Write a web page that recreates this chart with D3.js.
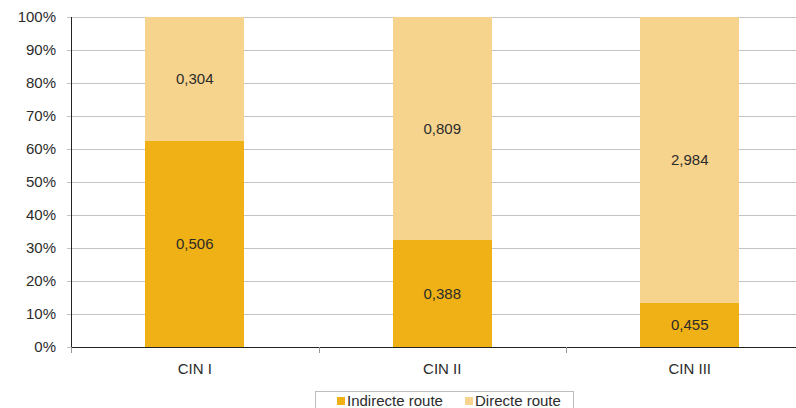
<!DOCTYPE html>
<html>
<head>
<meta charset="utf-8">
<script src="https://cdn.jsdelivr.net/npm/d3@7"></script>
<style>
  html, body { margin: 0; padding: 0; background: #fff; overflow: hidden; }
  svg { display: block; font-family: "Liberation Sans", Arial, sans-serif; }
</style>
</head>
<body>
<svg id="chart" width="796" height="408"></svg>
<script>
const categories = ["CIN I", "CIN II", "CIN III"];
const indirecte = [0.506, 0.388, 0.455];
const directe = [0.304, 0.809, 2.984];
const seriesNames = ["Indirecte route", "Directe route"];
const yTicks = [0, 0.1, 0.2, 0.3, 0.4, 0.5, 0.6, 0.7, 0.8, 0.9, 1.0];

const colors = ["#EFB115", "#F7D48E"];
const svg = d3.select("#chart");
const margin = { left: 71, top: 17, right: -17.5, bottom: 61 };
const W = 796, H = 408;
const plotW = W - margin.left - margin.right;
const plotH = H - margin.top - margin.bottom;

const x = d3.scaleBand().domain(categories).range([margin.left, margin.left + plotW]).paddingInner(0.6).paddingOuter(0.3);
const y = d3.scaleLinear().domain([0, 1]).range([margin.top + plotH, margin.top]);

// gridlines
svg.append("g").selectAll("line").data(yTicks.slice(1)).join("line")
  .attr("x1", margin.left - 4).attr("x2", margin.left + plotW)
  .attr("y1", d => y(d)).attr("y2", d => y(d))
  .attr("stroke", "#C4C4C4").attr("stroke-width", 1).attr("shape-rendering", "crispEdges");

// data
const rows = categories.map((c, i) => {
  const tot = indirecte[i] + directe[i];
  return { cat: c, vals: [indirecte[i], directe[i]], shares: [indirecte[i] / tot, directe[i] / tot] };
});

const g = svg.append("g");
rows.forEach(r => {
  let acc = 0;
  r.shares.forEach((s, k) => {
    const y0 = acc, y1 = acc + s;
    g.append("rect")
      .attr("x", x(r.cat)).attr("width", x.bandwidth())
      .attr("y", y(y1)).attr("height", y(y0) - y(y1))
      .attr("fill", colors[k]).attr("shape-rendering", "crispEdges");
    g.append("text")
      .attr("x", x(r.cat) + x.bandwidth() / 2)
      .attr("y", (y(y0) + y(y1)) / 2)
      .attr("dy", "0.35em").attr("text-anchor", "middle")
      .attr("font-size", 15).attr("fill", "#2b2b2b")
      .text(d3.format(".3f")(r.vals[k]).replace(".", ","));
    acc = y1;
  });
});

// y axis
const yAxis = d3.axisLeft(y).tickValues(yTicks).tickFormat(d3.format(".0%")).tickSize(4).tickPadding(11);
const ya = svg.append("g").attr("transform", `translate(${margin.left},0)`).call(yAxis);
ya.select(".domain").attr("stroke", "#222").attr("d", `M0.5,${y(1)}V${y(0)}`);
ya.selectAll(".tick line").attr("stroke", "#C4C4C4");
ya.selectAll("text").attr("font-size", 15).attr("fill", "#2b2b2b").attr("font-family", "Liberation Sans, Arial, sans-serif");

// x axis
const xa = svg.append("g").attr("transform", `translate(0,${y(0)})`);
xa.append("line").attr("x1", margin.left).attr("x2", margin.left + plotW)
  .attr("y1", 0.5).attr("y2", 0.5).attr("stroke", "#222");
const bounds = d3.range(categories.length + 1).map(i => margin.left + i * plotW / categories.length);
xa.selectAll("line.tk").data(bounds).join("line").attr("class", "tk")
  .attr("x1", d => Math.round(d) + 0.5).attr("x2", d => Math.round(d) + 0.5)
  .attr("y1", 0).attr("y2", 6).attr("stroke", "#999");
xa.selectAll("text").data(categories).join("text")
  .attr("x", d => x(d) + x.bandwidth() / 2).attr("y", 27)
  .attr("text-anchor", "middle").attr("font-size", 15).attr("fill", "#2b2b2b")
  .text(d => d);

// legend
const lg = svg.append("g");
lg.append("rect").attr("x", 315.5).attr("y", 391.5).attr("width", 258).attr("height", 30)
  .attr("fill", "#fff").attr("stroke", "#BDBDBD");
const lx = [337, 465];
seriesNames.forEach((n, i) => {
  lg.append("rect").attr("x", lx[i]).attr("y", 397).attr("width", 8).attr("height", 8).attr("fill", colors[i]);
  lg.append("text").attr("x", lx[i] + 10).attr("y", 406).attr("font-size", 15).attr("fill", "#2b2b2b").text(n);
});
</script>
</body>
</html>
